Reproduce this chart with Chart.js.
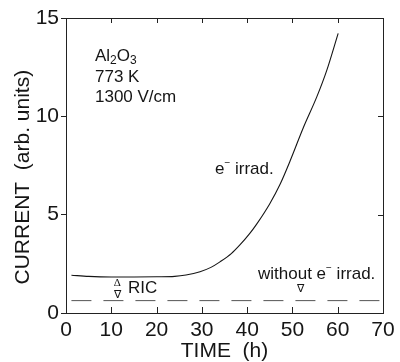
<!DOCTYPE html>
<html>
<head>
<meta charset="utf-8">
<script src="https://cdn.jsdelivr.net/npm/chart.js@4.4.0/dist/chart.umd.min.js"></script>
<style>
    html, body { margin: 0; padding: 0; background: #fff; }
    #wrap { width: 400px; height: 362px; position: relative; }
</style>
</head>
<body>
<div id="wrap"><canvas id="currentChart"></canvas></div>
<script>
// e- irradiated sample
const irradTime = [1.2, 5, 10, 15, 20, 24, 26.5, 29.6, 32, 34, 36.5, 38.4, 40.5, 42.1, 45, 47.3, 49.5, 52.4, 55.4, 57.6, 60.1];
const irradCurrent = [1.92, 1.86, 1.83, 1.83, 1.84, 1.86, 1.93, 2.1, 2.32, 2.6, 3.02, 3.46, 4.02, 4.52, 5.56, 6.56, 7.74, 9.42, 11.0, 12.35, 14.22];

// without irradiation (dashed level)
const darkTime = [1.2, 69.8];
const darkCurrent = [0.63, 0.63];

// tick labels
const xTicks = [0, 10, 20, 30, 40, 50, 60, 70];
const yTicks = [0, 5, 10, 15];

const FONT = "'Liberation Sans', Arial, Helvetica, sans-serif";
const INK = '#151515';

function toPoints(xs, ys) {
    return xs.map((x, i) => ({ x: x, y: ys[i] }));
}

// draws a run of text pieces, each piece: [text, size, dy]
function drawPieces(ctx, pieces, px, py) {
    let x = px;
    pieces.forEach(p => {
        ctx.font = p[1] + 'px ' + FONT;
        ctx.fillText(p[0], x, py + p[2]);
        x += ctx.measureText(p[0]).width;
    });
}

const framePlugin = {
    id: 'frame',
    afterDraw(chart) {
        const ctx = chart.ctx;
        const a = chart.chartArea;
        const xs = chart.scales.x;
        const ys = chart.scales.y;
        ctx.save();
        ctx.strokeStyle = '#222';
        ctx.lineWidth = 1;
        ctx.strokeRect(Math.round(a.left) + 0.5, Math.round(a.top) + 0.5,
            Math.round(a.right - a.left), Math.round(a.bottom - a.top));

        // inward ticks on bottom, top and right
        ctx.beginPath();
        xTicks.forEach(v => {
            const px = Math.round(xs.getPixelForValue(v)) + 0.5;
            ctx.moveTo(px, a.bottom); ctx.lineTo(px, a.bottom - 6);
            ctx.moveTo(px, a.top); ctx.lineTo(px, a.top + 5);
        });
        yTicks.forEach(v => {
            const py = Math.round(ys.getPixelForValue(v)) + 0.5;
            ctx.moveTo(a.right, py); ctx.lineTo(a.right - 5, py);
        });
        ctx.stroke();

        // annotations
        ctx.fillStyle = INK;
        ctx.textBaseline = 'middle';
        ctx.textAlign = 'left';
        const X = v => xs.getPixelForValue(v);
        const Y = v => ys.getPixelForValue(v);

        drawPieces(ctx, [['Al', 17, 0], ['2', 12, 4], ['O', 17, 0], ['3', 12, 4]], X(6.4), Y(13.04));
        drawPieces(ctx, [['773 K', 17, 0]], X(6.4), Y(11.97));
        drawPieces(ctx, [['1300 V/cm', 17, 0]], X(6.4), Y(10.96));

        drawPieces(ctx, [['e', 17, 0], ['\u2212', 10, -6], [' irrad.', 17, 0]], X(32.9), Y(7.32));
        drawPieces(ctx, [['without e', 17, 0], ['\u2212', 10, -6], [' irrad.', 17, 0]], X(42.4), Y(1.96));
        drawPieces(ctx, [['RIC', 17, 0]], X(13.7), Y(1.27));

        ctx.textAlign = 'center';
        ctx.font = "11px 'Liberation Serif', 'Times New Roman', serif";
        ctx.fillText('\u0394', X(11.3), Y(1.53));
        ctx.fillText('\u2207', X(11.4), Y(0.92));
        ctx.fillText('\u2207', X(51.7), Y(1.19));
        ctx.restore();
    }
};

new Chart(document.getElementById('currentChart'), {
    type: 'scatter',
    data: {
        datasets: [
            {
                label: 'e- irrad.',
                data: toPoints(irradTime, irradCurrent),
                showLine: true,
                borderColor: INK,
                borderWidth: 1.1,
                pointRadius: 0,
                cubicInterpolationMode: 'monotone'
            },
            {
                label: 'without e- irrad.',
                data: toPoints(darkTime, darkCurrent),
                showLine: true,
                borderColor: '#555',
                borderWidth: 1,
                borderDash: [20, 12],
                pointRadius: 0
            }
        ]
    },
    options: {
        responsive: true,
        maintainAspectRatio: false,
        animation: false,
        layout: { padding: { top: 18, right: 17, left: 0, bottom: 0 } },
        plugins: {
            legend: { display: false },
            tooltip: { enabled: false }
        },
        scales: {
            x: {
                type: 'linear',
                min: 0,
                max: 70,
                afterBuildTicks: s => { s.ticks = xTicks.map(v => ({ value: v })); },
                afterFit: s => { s.height = 49; },
                grid: { display: false, drawTicks: false },
                border: { display: false },
                ticks: {
                    padding: 5,
                    maxRotation: 0,
                    color: INK,
                    font: { family: FONT, size: 21 }
                },
                title: {
                    display: true,
                    text: 'TIME  (h)',
                    color: INK,
                    font: { family: FONT, size: 21, lineHeight: 1 },
                    padding: 0
                }
            },
            y: {
                type: 'linear',
                min: 0,
                max: 15,
                afterBuildTicks: s => { s.ticks = yTicks.map(v => ({ value: v })); },
                afterFit: s => { s.width = 66; },
                grid: {
                    drawOnChartArea: false,
                    drawTicks: true,
                    tickLength: 5,
                    color: '#222'
                },
                border: { display: false },
                ticks: {
                    padding: 2,
                    color: INK,
                    font: { family: FONT, size: 21 }
                },
                title: {
                    display: true,
                    text: 'CURRENT  (arb. units)    ',
                    color: INK,
                    font: { family: FONT, size: 21, lineHeight: 1.2 },
                    padding: { top: 11, bottom: 0 }
                }
            }
        }
    },
    plugins: [framePlugin]
});
</script>
</body>
</html>
